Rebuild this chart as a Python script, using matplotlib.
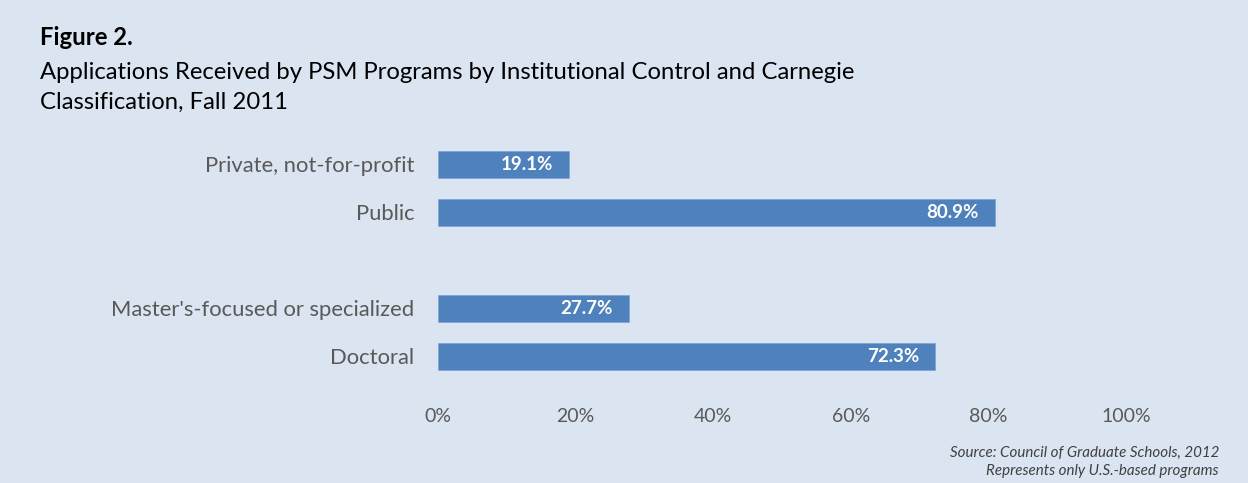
import matplotlib
matplotlib.use("Agg")
import matplotlib.pyplot as plt
from matplotlib.ticker import FuncFormatter

categories = ["Private, not-for-profit", "Public", "", "Master's-focused or specialized", "Doctoral"]
values = [19.1, 80.9, None, 27.7, 72.3]
xticks = [0, 20, 40, 60, 80, 100]

BG = "#DBE5F1"
BAR = "#4F81BD"
GREY = "#595959"
FONT = ["Lato", "DejaVu Sans"]

W, H = 1248, 483
fig = plt.figure(figsize=(W / 100, H / 100), dpi=100)
fig.patch.set_facecolor(BG)

# plot area: x 0..100 -> px 438..1126 ; rows 140.5..380.5
left, right = 438 / W, 1126 / W
top, bottom = 1 - 140.5 / H, 1 - 380.5 / H
ax = fig.add_axes([left, bottom, right - left, top - bottom])
ax.set_facecolor(BG)

pos = list(range(len(categories)))
for p, v in zip(pos, values):
    if v is None:
        continue
    ax.barh(p, v, height=0.5625, color=BAR, edgecolor="#7FA6D6", linewidth=0.6)
    ax.text(v - 2.3, p, f"{v:.1f}%", ha="right", va="center", color="white",
            fontsize=13.5, fontweight="bold", family=FONT)

ax.set_xlim(0, 100)
ax.set_ylim(len(categories) - 0.5, -0.5)
ax.set_yticks(pos)
ax.set_yticklabels(categories, family=FONT, fontsize=15.8, color=GREY)
ax.set_xticks(xticks)
ax.xaxis.set_major_formatter(FuncFormatter(lambda x, _: f"{int(x)}%"))
for lab in ax.get_xticklabels():
    lab.set_family(FONT)
    lab.set_fontsize(14)
    lab.set_color(GREY)
ax.tick_params(axis="both", length=0)
ax.tick_params(axis="y", pad=17)
ax.tick_params(axis="x", pad=20)
for s in ax.spines.values():
    s.set_visible(False)

TS = 17.2
fig.text(40 / W, 1 - 45 / H, "Figure 2.", ha="left", va="baseline", fontsize=TS,
         fontweight="bold", family=FONT, color="black")
fig.text(40 / W, 1 - 79 / H,
         "Applications Received by PSM Programs by Institutional Control and Carnegie",
         ha="left", va="baseline", fontsize=TS, family=FONT, color="black")
fig.text(40 / W, 1 - 109 / H, "Classification, Fall 2011", ha="left", va="baseline",
         fontsize=TS, family=FONT, color="black")

fig.text(1219 / W, 1 - 453 / H, "Source: Council of Graduate Schools, 2012", ha="right",
         va="center", fontsize=10.9, style="italic", family=FONT, color="#404040")
fig.text(1219 / W, 1 - 471 / H, "Represents only U.S.-based programs", ha="right",
         va="center", fontsize=10.9, style="italic", family=FONT, color="#404040")

fig.savefig("out.png", dpi=100, facecolor=BG)
